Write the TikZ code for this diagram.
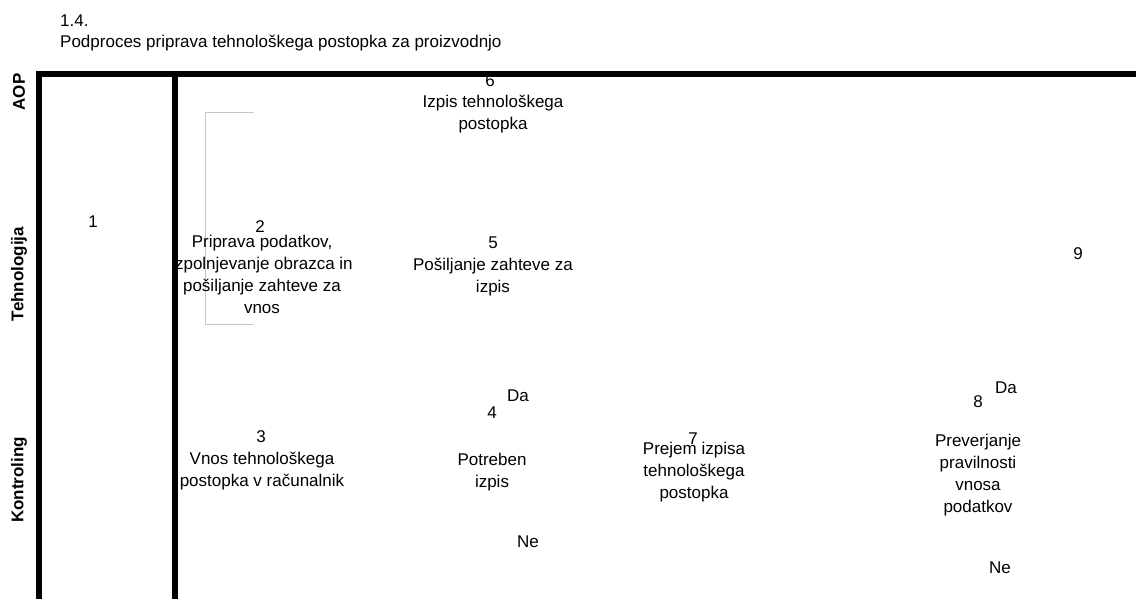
\documentclass[tikz,border=0pt]{standalone}
\usepackage{fontspec}
\setmainfont{Liberation Sans}
\begin{document}
\begin{tikzpicture}[x=1pt,y=-1pt,
  txt/.style={font=\fontsize{17}{22}\selectfont, inner sep=0pt, align=center, anchor=base},
  lane/.style={font=\fontsize{17}{22}\selectfont\bfseries, inner sep=0pt, rotate=90},
  frame/.style={line width=6pt, line join=miter},
  bracket/.style={draw=black!22, line width=1pt}]
\useasboundingbox (0,0) rectangle (1136,599);

% pool frame
\coordinate (bl) at (39,599);
\coordinate (tl) at (39,74);
\coordinate (tr) at (1136,74);
\coordinate (mt) at (175,71);
\coordinate (mb) at (175,599);
\draw[frame] (bl) -- (tl) -- (tr);
\draw[frame] (mt) -- (mb);

% heading
\node[txt, anchor=base west] (hnum) at (60,27) {1.4.};
\node[txt, anchor=base west] (htitle) at (60,48) {Podproces priprava tehnološkega postopka za proizvodnjo};

% lane names
\node[lane] (laop) at (19,92) {AOP};
\node[lane] (ltech) at (19,274) {Tehnologija};
\node[lane] (lkon) at (19,480) {Kontroling};

% annotation bracket
\coordinate (b1) at (254,113);
\coordinate (b2) at (205,113);
\coordinate (b3) at (205,324);
\coordinate (b4) at (254,324);
\draw[bracket] (b1) -- (b2) -- (b3) -- (b4);

% steps (multi-line texts are placed by the baseline of their last line)
\node[txt] (s1) at (93,227) {1};

\node[txt] (s2n) at (260,233) {2};
\node[txt] (s2) at (262,313) {Priprava podatkov,\\izpolnjevanje obrazca in\\pošiljanje zahteve za\\vnos};

\node[txt] (s3n) at (261,442) {3};
\node[txt] (s3) at (262,486) {Vnos tehnološkega\\postopka v računalnik};

\node[txt] (s4n) at (492,418) {4};
\node[txt] (s4) at (492,487) {Potreben\\izpis};
\node[txt] (s4da) at (518,401) {Da};
\node[txt] (s4ne) at (528,547) {Ne};

\node[txt] (s5n) at (493,248) {5};
\node[txt] (s5) at (493,292) {Pošiljanje zahteve za\\izpis};

\node[txt] (s6n) at (490,87) {6};
\node[txt] (s6) at (493,130) {Izpis tehnološkega\\postopka};

\node[txt] (s7n) at (693,444) {7};
\node[txt] (s7) at (694,498) {Prejem izpisa\\tehnološkega\\postopka};

\node[txt] (s8n) at (978,407) {8};
\node[txt] (s8) at (978,512) {Preverjanje\\pravilnosti\\vnosa\\podatkov};
\node[txt] (s8da) at (1006,393) {Da};
\node[txt] (s8ne) at (1000,573) {Ne};

\node[txt] (s9) at (1078,259) {9};
\end{tikzpicture}
\end{document}
